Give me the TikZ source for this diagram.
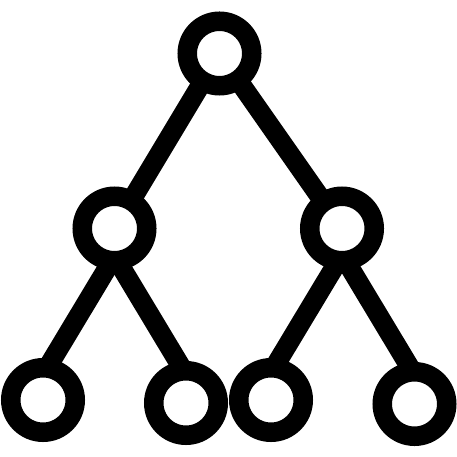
\documentclass[tikz,border=0pt]{standalone}
\usetikzlibrary{calc}
\begin{document}
\begin{tikzpicture}[x=1pt,y=-1pt,
  ring/.style={circle,draw=black,fill=white,line width=19.5pt,minimum size=64.5pt,inner sep=0pt},
  link/.style={line width=19.5pt,black}]
\useasboundingbox (0,0) rectangle (457,457);
\coordinate (t) at (219.5,53.5);
\coordinate (ml) at (114.5,228.5);
\coordinate (mr) at (342,228.5);
\coordinate (b1) at (43,400);
\coordinate (b2) at (186,403);
\coordinate (b3) at (271,400);
\coordinate (b4) at (414.5,404);
% fork points just below the middle rings
\coordinate (mlk) at ($(ml)+(0,27.5)$);
\coordinate (mrk) at ($(mr)+(0,26)$);
\coordinate (b1k) at ($(mlk)+(-86,143)$);
\coordinate (b2k) at ($(mlk)+(86,143)$);
\coordinate (b3k) at ($(mrk)+(-86,143)$);
\coordinate (b4k) at ($(mrk)+(86,143)$);
\draw[link] (t) -- (ml);
\draw[link] (t) -- (mr);
\draw[link] (mlk) -- (b1k);
\draw[link] (mlk) -- (b2k);
\draw[link] (mrk) -- (b3k);
\draw[link] (mrk) -- (b4k);
\node[ring] (nt) at (t) {};
\node[ring] (nml) at (ml) {};
\node[ring] (nmr) at (mr) {};
\node[ring] (nb1) at (b1) {};
\node[ring] (nb2) at (b2) {};
\node[ring] (nb3) at (b3) {};
\node[ring] (nb4) at (b4) {};
\end{tikzpicture}
\end{document}
